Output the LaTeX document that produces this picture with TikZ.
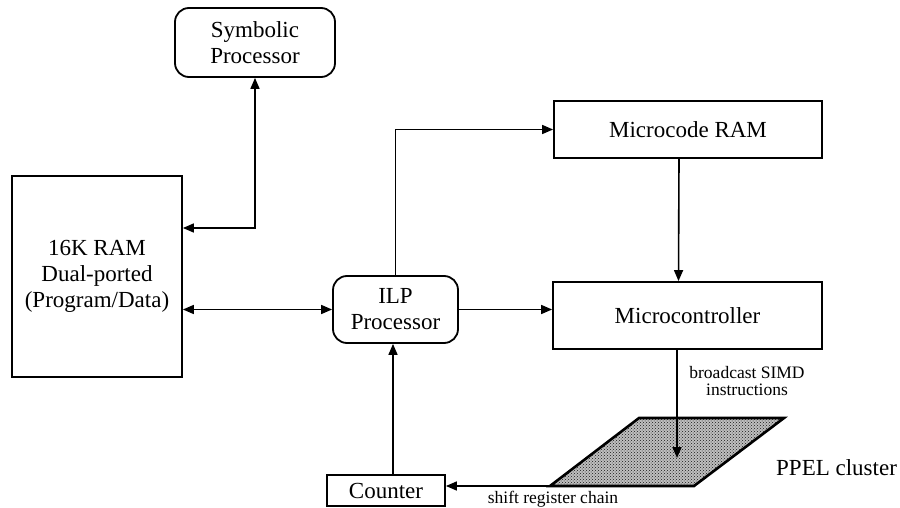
\documentclass[tikz,border=0pt]{standalone}
\usepackage{fontspec}
\setmainfont{Liberation Serif}
\usetikzlibrary{arrows.meta,positioning,patterns}

\begin{document}
\begin{tikzpicture}[x=1pt,y=-1pt,
	block/.style={draw, rectangle, line width=1.8pt, align=center, inner sep=0pt, font=\fontsize{23}{26}\selectfont},
	rblock/.style={block, rounded corners=14pt},
	conn/.style={line width=1.6pt, -{Triangle[length=11pt,width=9pt]}},
	dconn/.style={line width=1.6pt, {Triangle[length=11pt,width=9pt]}-{Triangle[length=11pt,width=9pt]}},
	smalllbl/.style={inner sep=0pt, align=center, font=\fontsize{17.5}{17}\selectfont}]
	\useasboundingbox (0,0) rectangle (900,508);

	% Processors and memories
	\node[rblock, minimum width=160, minimum height=69] (sym) at (255,42.5) {Symbolic\\Processor};
	\node[block, minimum width=170, minimum height=201] (ram) at (97,276.5) {16K RAM\\Dual-ported\\(Program/Data)};
	\node[rblock, minimum width=125, minimum height=67] (ilp) at (395.5,309.5) {ILP\\Processor};
	\node[block, minimum width=268, minimum height=57] (mram) at (688,129.5) {Microcode RAM};
	\node[block, minimum width=269, minimum height=67] (mctl) at (687.5,315.5) {Microcontroller};
	\node[block, minimum width=118, minimum height=31] (ctr) at (386,490.5) {Counter};

	% PPEL cluster
	\coordinate (ppelbl) at (550,486);
	\coordinate (ppelbr) at (694,486);
	\coordinate (ppeltr) at (784,418);
	\coordinate (ppeltl) at (639,418);
	\draw[line width=2.6pt, line join=miter, preaction={fill=black!25}, pattern=crosshatch dots, pattern color=black!90]
		(ppelbl) -- (ppelbr) -- (ppeltr) -- (ppeltl) -- cycle;
	\node[inner sep=0pt, anchor=west, font=\fontsize{23}{26}\selectfont] (ppellbl) at (776,468) {PPEL cluster};

	% Connections
	\coordinate (symjoint) at (255,228);
	\draw[dconn] (ram.east |- symjoint) -| (sym.south);
	\draw[dconn] (ram.east |- ilp.west) -- (ilp.west);
	\draw[conn] (ilp.north) |- (mram.west);
	\draw[conn] ([xshift=-9pt]mram.south) -- ([xshift=-9pt]mctl.north);
	\draw[conn] (ilp.east) -- (ilp.east -| mctl.west);
	\coordinate (simdend) at (677,458);
	\draw[conn] (mctl.south -| simdend) -- (simdend);
	\node[smalllbl] (simdlbl) at (747,381.5) {broadcast SIMD\\instructions};
	\draw[conn] (ppelbl) -- (ppelbl -| ctr.east);
	\node[smalllbl] (shiftlbl) at (553,499) {shift register chain};
	\draw[conn] (ctr.north -| 393,0) -- (ilp.south -| 393,0);
\end{tikzpicture}
\end{document}
